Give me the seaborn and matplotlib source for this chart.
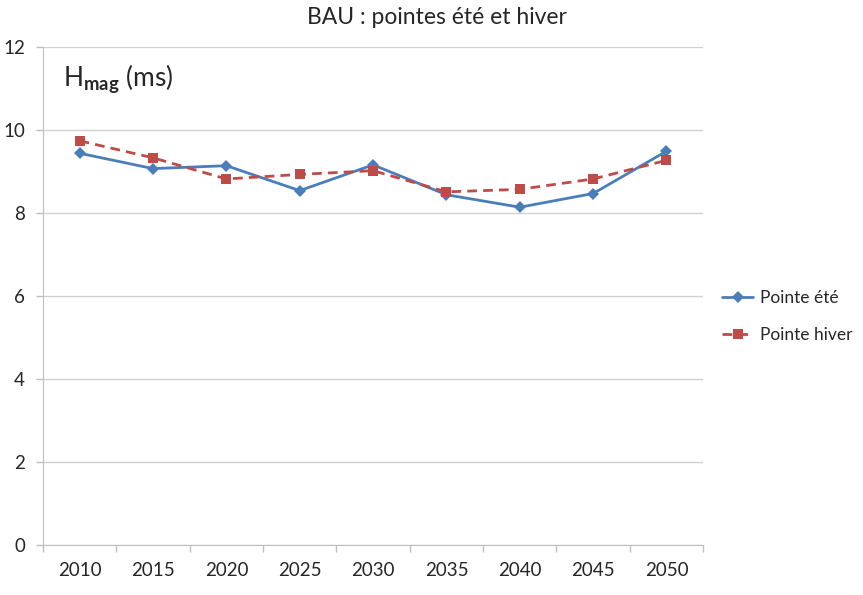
import pandas as pd
import numpy as np
import seaborn as sns
from matplotlib import pyplot as plt
from matplotlib.ticker import FixedLocator

##Les données
annees = ["2010", "2015", "2020", "2025", "2030", "2035", "2040", "2045", "2050"]
pointe_ete = [9.44, 9.07, 9.14, 8.54, 9.16, 8.44, 8.14, 8.47, 9.49]
pointe_hiver = [9.74, 9.33, 8.82, 8.93, 9.02, 8.51, 8.57, 8.82, 9.27]
series = ["Pointe été", "Pointe hiver"]

df = pd.DataFrame({
    "Année": annees * 2,
    "Hmag": pointe_ete + pointe_hiver,
    "Série": [series[0]] * len(annees) + [series[1]] * len(annees),
})

sns.set_style("white")
plt.rcParams['font.family'] = ['Lato', 'DejaVu Sans']
plt.rcParams['mathtext.fontset'] = 'custom'
plt.rcParams['mathtext.rm'] = 'Lato'
plt.rcParams['mathtext.bf'] = 'Lato:bold'

fig = plt.figure(figsize=(8.63, 5.95), dpi=100)
ax = fig.add_axes([0.0498, 0.084, 0.765, 0.837])

couleurs = {series[0]: "#4A7EBB", series[1]: "#BE4B48"}
sns.lineplot(data=df, x="Année", y="Hmag", hue="Série", style="Série",
             palette=couleurs, markers={series[0]: "D", series[1]: "s"},
             dashes={series[0]: "", series[1]: (3.5, 2.2)},
             markersize=6.5, linewidth=2, markeredgewidth=0, ax=ax)

# axes façon Excel
ax.set_xlim(-0.5, len(annees) - 0.5)
ax.set_ylim(0, 12)
ax.set_yticks(range(0, 13, 2))
ax.set_xticks(range(len(annees)), labels=annees)
ax.xaxis.set_minor_locator(FixedLocator(np.arange(-0.5, len(annees), 1)))
ax.tick_params(axis='x', which='major', length=0, pad=12, labelsize=13.5)
ax.tick_params(axis='x', which='minor', length=5, color='#BFBFBF', width=1, direction='out', bottom=True)
ax.tick_params(axis='y', length=5, color='#BFBFBF', width=1, direction='out', left=True, pad=8, labelsize=13.5)
ax.grid(axis='y', color='#D0D0D0', linewidth=1)
ax.set_axisbelow(True)
for s in ['top', 'right']:
    ax.spines[s].set_visible(False)
for s in ['left', 'bottom']:
    ax.spines[s].set_color('#BFBFBF')
ax.set_xlabel("")
ax.set_ylabel("")

ax.text(0.03, 0.97, r"$\mathrm{H}_{\mathbf{mag}}$ (ms)", transform=ax.transAxes,
        fontsize=19, va='top', ha='left')
fig.text(0.506, 0.97, "BAU : pointes été et hiver", fontsize=16.5, ha='center', va='center')

leg = ax.legend(loc='center left', bbox_to_anchor=(1.029, 0.459), frameon=False,
                fontsize=12.5, handlelength=1.75, handletextpad=0.4,
                labelspacing=1.25, borderpad=0, borderaxespad=0)

fig.savefig("out.png", dpi=100)
